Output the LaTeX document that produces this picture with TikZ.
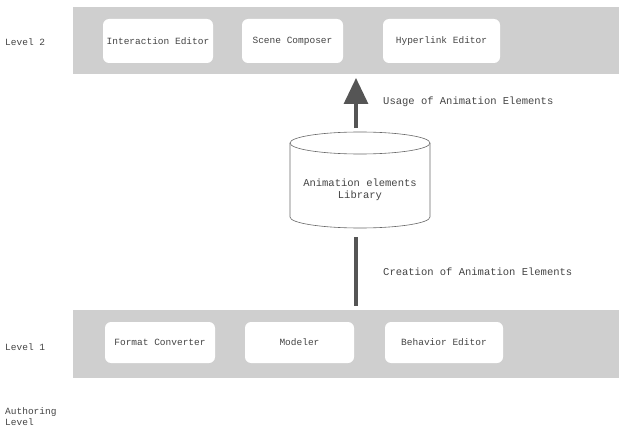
\documentclass[tikz,border=0pt]{standalone}
\usepackage{fontspec}
\setmainfont{Liberation Mono}
\usetikzlibrary{arrows.meta}
\definecolor{band}{HTML}{CFCFCF}
\definecolor{ink}{HTML}{444444}
\definecolor{arr}{HTML}{555555}
\begin{document}
\begin{tikzpicture}[x=1pt,y=-1pt,
  txt/.style={text=ink,font=\fontsize{9.5}{11}\selectfont,inner sep=0pt},
  lbl/.style={txt,font=\fontsize{10.5}{12}\selectfont},
  bandbox/.style={fill=band,draw=none},
  comp/.style={fill=white,draw=none,rounded corners=6pt,inner sep=0pt,txt},
  cyl/.style={draw=ink!80,line width=0.6pt,fill=white},
  conn/.style={draw=arr,line width=3.2pt}]
\useasboundingbox (0,0) rectangle (619,428);
\fill[white] (0,0) rectangle (619,428);
% bands
\path[bandbox] (73,7) rectangle (619,74);
\path[bandbox] (73,310) rectangle (619,378);
% top level components
\node[comp,minimum width=110pt,minimum height=44pt] (ie) at (158,41) {Interaction Editor};
\node[comp,minimum width=101pt,minimum height=44pt] (sc) at (292.5,41) {Scene Composer};
\node[comp,minimum width=117pt,minimum height=44pt] (he) at (441.5,41) {Hyperlink Editor};
% bottom level components
\node[comp,minimum width=110pt,minimum height=41pt] (fc) at (160,342.5) {Format Converter};
\node[comp,minimum width=109pt,minimum height=41pt] (mo) at (299.5,342.5) {Modeler};
\node[comp,minimum width=118pt,minimum height=41pt] (be) at (444,342.5) {Behavior Editor};
% level labels
\node[txt,anchor=west] (l2) at (5,42) {Level 2};
\node[txt,anchor=west] (l1) at (5,347) {Level 1};
\node[txt,anchor=west,align=left] (al) at (5,417) {Authoring\\Level};
% library cylinder
\draw[cyl] (290,143) -- (290,217) arc[start angle=180,end angle=360,x radius=70pt,y radius=11pt] -- (430,143);
\draw[cyl] (360,143) ellipse [x radius=70pt,y radius=11pt];
\node[lbl,align=center,minimum width=140pt,minimum height=96pt] (lb) at (360,190) {Animation elements\\Library};
% connectors
\coordinate (topin) at (356,78);
\coordinate (libtop) at (356,128);
\coordinate (libbot) at (356,237);
\coordinate (botin) at (356,306);
\draw[conn,-{Triangle[width=24pt,length=26pt]}] (libtop) -- (topin);
\draw[conn] (libbot) -- (botin);
\node[lbl,anchor=west] (ul) at (383,102) {Usage of Animation Elements};
\node[lbl,anchor=west] (cl) at (383,272) {Creation of Animation Elements};
\end{tikzpicture}
\end{document}
